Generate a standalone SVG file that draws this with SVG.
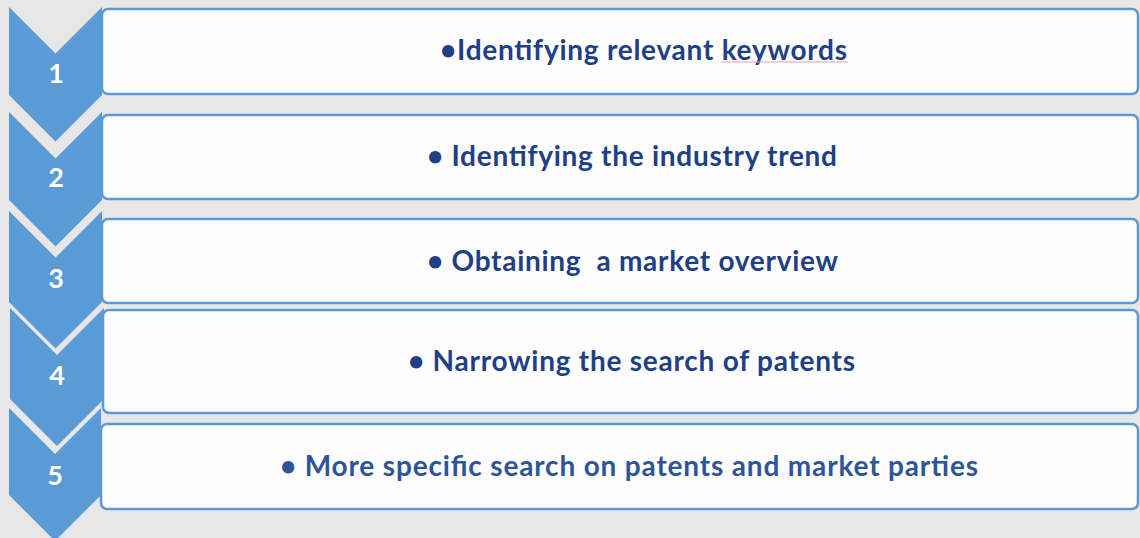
<svg xmlns="http://www.w3.org/2000/svg" width="1140" height="538" viewBox="0 0 1140 538">
<style>
.bg{fill:#e7e7e7}
.box{fill:#fdfdfd;stroke:#5b9bd5;stroke-width:2.5}
.chev{fill:#5b9bd5}
.num{font-family:Lato,"Open Sans",sans-serif;font-weight:bold;font-size:27px;fill:#ffffff;text-anchor:middle}
.lbl{font-family:Lato,"Open Sans",sans-serif;font-weight:bold;font-size:28px;fill:#213f86;white-space:pre}
.lbl5{fill:#2e5597}
</style>
<rect class="bg" x="0" y="0" width="1140" height="538"/>
<g id="step1">
<rect class="box" x="102" y="9" width="1036" height="85" rx="6"/>
<polygon class="chev" points="9,7 55.5,53.5 102,7 102,95 55.5,141.5 9,95"/>
<text class="num" x="56" y="83">1</text>
<text class="lbl" x="440" y="60" textLength="407">•Identifying relevant keywords</text>
<line x1="721" y1="62" x2="848" y2="62" stroke="#e9a3a3" stroke-width="1.2"/>
</g>
<g id="step2">
<rect class="box" x="102" y="115" width="1036" height="84" rx="6"/>
<polygon class="chev" points="9,112 55.5,158.5 102,112 102,200 55.5,246.5 9,200"/>
<text class="num" x="56" y="187">2</text>
<text class="lbl" x="427" y="166" textLength="410">• Identifying the industry trend</text>
</g>
<g id="step3">
<rect class="box" x="102" y="219" width="1036" height="84" rx="6"/>
<polygon class="chev" points="9,211 55.5,257.5 102,211 102,302 55.5,348.5 9,302"/>
<text class="num" x="56" y="288">3</text>
<text class="lbl" x="427" y="271" textLength="411">• Obtaining  a market overview</text>
</g>
<g id="step4">
<rect class="box" x="103" y="310" width="1035" height="103" rx="6"/>
<polygon class="chev" points="10,308 57,355 104,308 104,399 57,446 10,399"/>
<text class="num" x="57" y="385">4</text>
<text class="lbl" x="408" y="371" textLength="447">• Narrowing the search of patents</text>
</g>
<g id="step5">
<rect class="box" x="101" y="424" width="1037" height="85" rx="6"/>
<polygon class="chev" points="9,408 55,454 101,408 101,495 55,541 9,495"/>
<text class="num" x="55" y="485">5</text>
<text class="lbl lbl5" x="280" y="476" textLength="698">• More specific search on patents and market parties</text>
</g>
<g id="connectors"/>
</svg>
